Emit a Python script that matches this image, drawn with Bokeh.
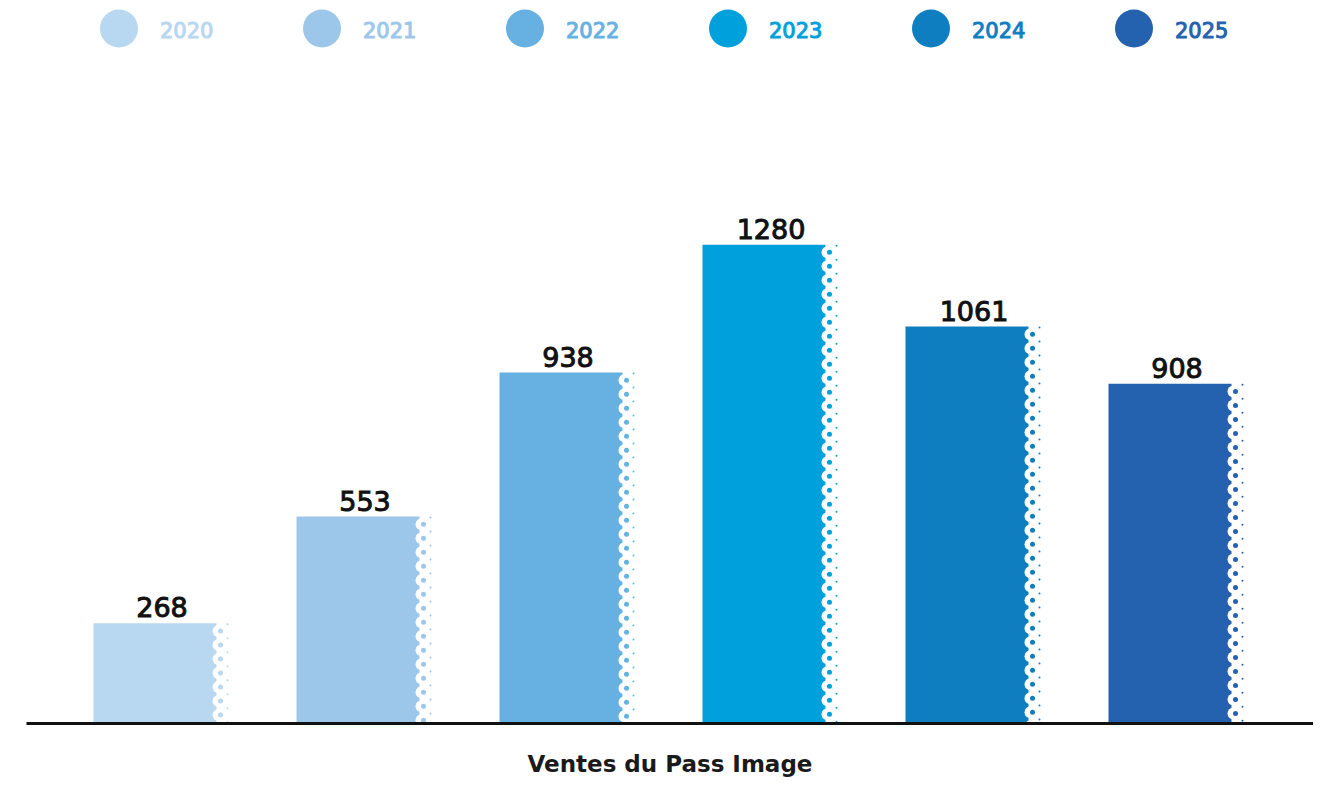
import numpy as np
from bokeh.plotting import figure
from bokeh.models import Range1d, FixedTicker, ColumnDataSource
from bokeh.core.properties import value
from bokeh.embed import file_html
from bokeh.resources import INLINE

# ---- data ----
years = ["2020", "2021", "2022", "2023", "2024", "2025"]
sales = [268, 553, 938, 1280, 1061, 908]
colors = ["#b8d7f0", "#9cc7eb", "#67b1e2", "#00a0dd", "#0f7ec1", "#2461ae"]
x_title = "Ventes du Pass Image"

# ---- layout constants ----
W, H = 1313, 779
ML, MR, MT, MB = 26, 0, 0, 56
frame_w = W - ML - MR
frame_h = H - MT - MB
PX_X = 203.0                      # pixels per category slot
X0 = -128.5 / PX_X
PX_Y = 0.3741                     # pixels per unit
Y_END = frame_h / PX_Y
BW = 123 / PX_X                   # bar width in data units

idx = np.arange(len(years))

p = figure(width=W, height=H,
           x_range=Range1d(X0, X0 + frame_w / PX_X),
           y_range=Range1d(0, Y_END),
           output_backend="svg", toolbar_location=None,
           y_axis_location=None,
           min_border_left=ML, min_border_right=MR,
           min_border_top=MT, min_border_bottom=MB)
p.outline_line_color = None
p.grid.visible = False
p.background_fill_color = "white"
p.border_fill_color = "white"

ax = p.xaxis[0]
ax.ticker = FixedTicker(ticks=[])
ax.major_tick_line_color = None
ax.minor_tick_line_color = None
ax.major_label_text_font_size = "0px"
ax.axis_line_width = 3
ax.axis_line_color = "#111111"
ax.axis_label = x_title
ax.axis_label_text_font = "DejaVu Sans"
ax.axis_label_text_font_style = "bold"
ax.axis_label_text_font_size = "23px"
ax.axis_label_text_color = "#1a1a1a"
ax.axis_label_standoff = 27

# bars
src = ColumnDataSource(dict(x=idx, top=sales, color=colors, year=years))
p.vbar(x="x", top="top", bottom=0, width=BW, fill_color="color",
       line_color=None, source=src)

# scalloped right edge decoration
bx, by, bc, tx, ty, tc = [], [], [], [], [], []
for i, v in enumerate(sales):
    h_px = v * PX_Y
    right = i + BW / 2
    k = 0
    while 7.7 + 14 * k < h_px + 6:
        off = 7.7 + 14 * k
        bx.append(right)
        by.append(v - off / PX_Y)
        bc.append(colors[i])
        tx.append(right + 11 / PX_X)
        ty.append(v - (off - 6.7) / PX_Y)
        tc.append(colors[i])
        k += 1
bx = np.array(bx)
p.scatter(x=bx + 2 / PX_X, y=by, size=12, fill_color="white", line_color=None)
p.scatter(x=bx + 4 / PX_X, y=by, size=5, fill_color=bc, line_color=None)
p.scatter(x=tx, y=ty, size=2, fill_color=tc, line_color=None)

# value labels
p.text(x=idx + 7 / PX_X, y=sales, text=[str(v) for v in sales],
       text_align="center", text_baseline="alphabetic", y_offset=-16,
       text_font=value("DejaVu Sans"), text_font_style="normal",
       text_font_size="27px", text_color="#111111",
       text_outline_color="#111111")

# legend (circles + year labels along the top)
LEG_Y = Y_END - 28 / PX_Y
p.scatter(x=idx - 36 / PX_X, y=[LEG_Y] * len(years), size=38,
          fill_color=colors, line_color=None)
p.text(x=idx + 5 / PX_X, y=[LEG_Y] * len(years), text=years,
       text_align="left", text_baseline="middle", y_offset=1,
       text_font=value("DejaVu Sans"), text_font_style="normal",
       text_font_size="21px", text_color=colors, text_outline_color=colors)

open("out.html", "w").write(file_html(p, INLINE))
